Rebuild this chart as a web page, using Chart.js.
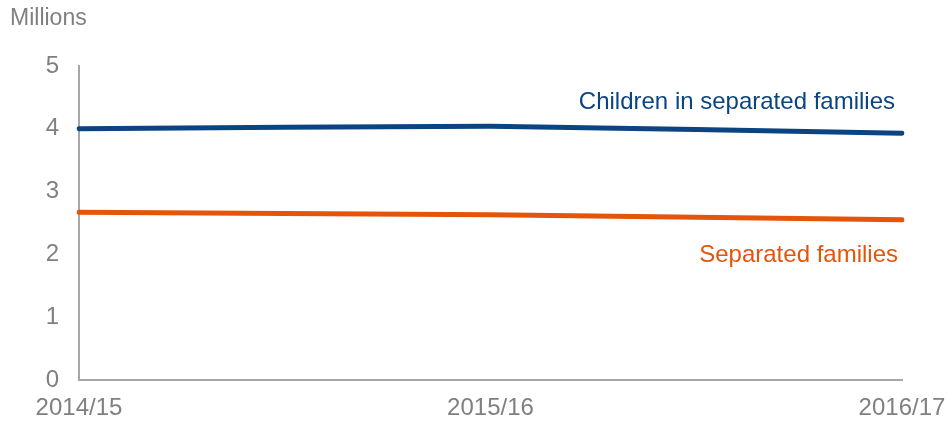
<!DOCTYPE html>
<html>
<head>
<meta charset="utf-8">
<script src="https://cdn.jsdelivr.net/npm/chart.js@4"></script>
<style>
  html, body { margin: 0; padding: 0; background: #fff; }
  #wrap { position: relative; width: 948px; height: 422px; }
</style>
</head>
<body>
<div id="wrap"><canvas id="familiesChart" width="948" height="422"></canvas></div>
<script>
// data
const years = ['2014/15', '2015/16', '2016/17'];
const childrenValues = [4.0, 4.04, 3.93];
const familiesValues = [2.67, 2.63, 2.55];
const yTicks = [0, 1, 2, 3, 4, 5];

const navy = '#0b4481';
const orange = '#e4540a';
const grey = '#808080';
const fontName = '"Liberation Sans", Arial, sans-serif';

// draws the unit label and the series names
const labelsPlugin = {
    id: 'labels',
    afterDraw(chart) {
        const {ctx, scales} = chart;
        const {x, y} = scales;
        ctx.save();
        ctx.textBaseline = 'alphabetic';
        ctx.font = '23px ' + fontName;
        ctx.fillStyle = grey;
        ctx.textAlign = 'left';
        ctx.fillText('Millions', 10, 25);

        ctx.font = '24px ' + fontName;
        ctx.textAlign = 'right';
        ctx.fillStyle = navy;
        ctx.fillText('Children in separated families', x.getPixelForValue(2) - 7, y.getPixelForValue(4.315));
        ctx.fillStyle = orange;
        ctx.fillText('Separated families', x.getPixelForValue(2) - 4, y.getPixelForValue(1.88));
        ctx.restore();
    }
};

const config = {
    type: 'line',
    data: {
        labels: years,
        datasets: [{
            label: 'Children in separated families',
            data: childrenValues,
            borderColor: navy,
            borderWidth: 5,
            pointRadius: 0,
            tension: 0.2,
            borderCapStyle: 'round'
        }, {
            label: 'Separated families',
            data: familiesValues,
            borderColor: orange,
            borderWidth: 5,
            pointRadius: 0,
            tension: 0.2,
            borderCapStyle: 'round'
        }]
    },
    options: {
        responsive: false,
        animation: false,
        layout: {
            padding: {left: 0, right: 46, top: 66, bottom: 0}
        },
        plugins: {
            legend: { display: false },
            tooltip: { enabled: false }
        },
        scales: {
            x: {
                grid: { display: false, drawTicks: false },
                border: { display: true, color: '#a6a6a6', width: 2 },
                ticks: {
                    color: grey,
                    font: { family: fontName, size: 24 },
                    padding: 14,
                    maxRotation: 0
                },
                afterFit(scale) {
                    scale.height = 42;
                    scale.paddingLeft = 0;
                    scale.paddingRight = 0;
                }
            },
            y: {
                min: 0,
                max: 5,
                afterBuildTicks(scale) { scale.ticks = yTicks.map(v => ({value: v})); },
                grid: { display: false, drawTicks: false },
                border: { display: true, color: '#a6a6a6', width: 2 },
                ticks: {
                    color: grey,
                    font: { family: fontName, size: 24 },
                    padding: 20
                },
                afterFit(scale) {
                    scale.width = 79;
                    scale.paddingTop = 0;
                    scale.paddingBottom = 0;
                }
            }
        }
    },
    plugins: [labelsPlugin]
};

const familiesChart = new Chart(document.getElementById('familiesChart'), config);
</script>
</body>
</html>
